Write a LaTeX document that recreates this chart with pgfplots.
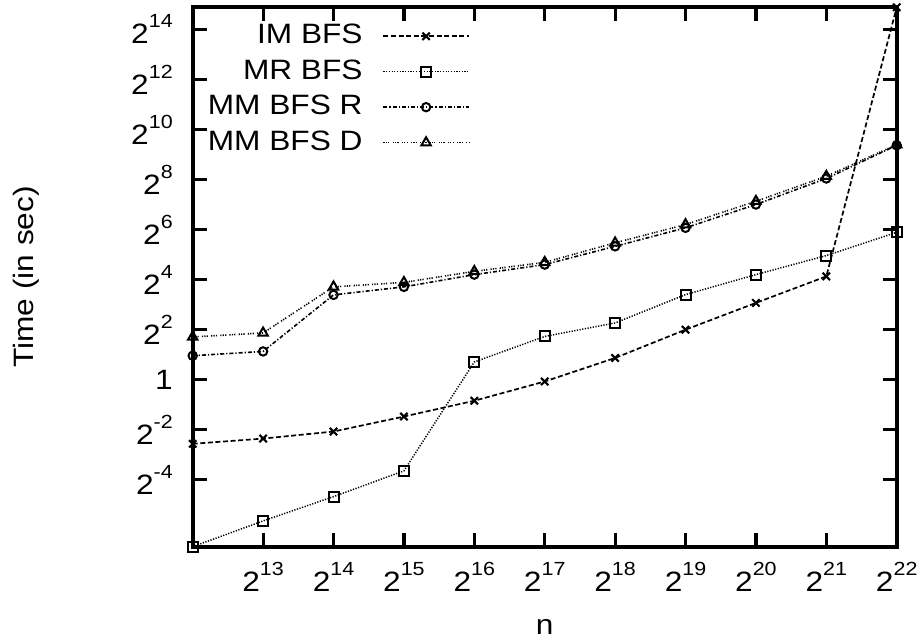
\documentclass[border=0pt]{standalone}
\usepackage{pgfplots}
\usepackage{pgfplotstable}
\pgfplotsset{compat=1.18}
\usepackage{fontspec}
\setmainfont[FakeStretch=1.13]{Liberation Sans}
\newcommand{\tp}[1]{2\raisebox{8pt}{\fontsize{9.5}{10}\selectfont #1}}

\pgfplotstableread{
x y
4096 0.1696
8192 0.1961
16384 0.2382
32768 0.3610
65536 0.5587
131072 0.9526
262144 1.828
524288 4.0
1048576 8.398
2097152 17.51
4194304 30153
}\imbfs
\pgfplotstableread{
x y
4096 0.00982
8192 0.02005
16384 0.03928
32768 0.08021
65536 1.636
131072 3.317
262144 4.823
524288 10.56
1048576 18.38
2097152 31.13
4194304 59.30
}\mrbfs
\pgfplotstableread{
x y
4096 1.945
8192 2.189
16384 10.48
32768 13.09
65536 18.38
131072 24.25
262144 40.22
524288 67.18
1048576 128.0
2097152 263.2
4194304 660.0
}\mmbfsr
\pgfplotstableread{
x y
4096 3.272
8192 3.655
16384 13.09
32768 14.82
65536 20.11
131072 25.81
262144 44.32
524288 73.52
1048576 140.1
2097152 280.1
4194304 672.0
}\mmbfsd

\begin{document}
\fontsize{14}{17}\selectfont
\begin{tikzpicture}
\begin{axis}[
  scale only axis, width=352pt, height=269.7pt,
  xmode=log, ymode=log, log basis x=2, log basis y=2,
  xmin=4096, xmax=4194304, ymin=0.00982, ymax=30153,
  clip=false,
  xtick={8192,16384,32768,65536,131072,262144,524288,1048576,2097152,4194304},
  xticklabels={\tp{13},\tp{14},\tp{15},\tp{16},\tp{17},\tp{18},\tp{19},\tp{20},\tp{21},\tp{22}},
  ytick={0.0625,0.25,1,4,16,64,256,1024,4096,16384},
  yticklabels={\tp{-4},\tp{-2},1,\tp{2},\tp{4},\tp{6},\tp{8},\tp{10},\tp{12},\tp{14}},
  minor tick num=0,
  axis line style={line width=2pt},
  tick style={line width=1.6pt, black},
  major tick length=7pt,
  tick label style={font=\fontsize{14}{17}\selectfont},
  xticklabel style={inner sep=0pt, yshift=-7.6pt},
  yticklabel style={inner sep=0pt, xshift=-9.8pt},
  label style={font=\fontsize{14}{17}\selectfont},
  xlabel={n},
  xlabel style={at={(axis description cs:0.5,-0.1628)}, anchor=base, inner sep=0pt},
  ylabel={Time (in sec)},
  ylabel style={at={(axis description cs:-0.2268,0.5)}, anchor=base, inner sep=0pt},
  legend cell align=right,
  legend plot pos=right,
  legend style={draw=none, fill=none, font=\fontsize{14}{17}\selectfont,
    at={(axis description cs:0.3939,0.969)}, anchor=north east,
    inner sep=0pt, column sep=10pt, row sep=5.85pt, nodes={inner sep=0pt}},
  legend image code/.code={
    \draw[mark repeat=2,mark phase=2,#1] plot coordinates {(0cm,0cm) (0.75cm,0cm) (1.5cm,0cm)};
  },
]
\addplot[black, line width=0.85pt, dash pattern=on 2.5pt off 1.3pt,
  mark=x, mark size=2.6pt, mark options={solid, line width=1.05pt}] table {\imbfs};
\addlegendentry{IM BFS}
\addplot[black, line width=0.75pt, dash pattern=on 0.6pt off 0.75pt,
  mark=square, mark size=2.5pt, mark options={solid, line width=1pt}] table {\mrbfs};
\addlegendentry{MR BFS}
\addplot[black, line width=0.8pt, dash pattern=on 2pt off 1pt on 0.6pt off 1pt,
  mark=o, mark size=2.1pt, mark options={solid, line width=1pt}] table {\mmbfsr};
\addlegendentry{MM BFS R}
\addplot[black, line width=0.8pt, dash pattern=on 0.6pt off 0.6pt on 0.6pt off 0.6pt on 0.6pt off 1.6pt,
  mark=triangle, mark size=2.7pt, mark options={solid, line width=1pt}] table {\mmbfsd};
\addlegendentry{MM BFS D}
\end{axis}
\pgfresetboundingbox
\path[use as bounding box] ([xshift=-96.35pt,yshift=-47.15pt]current axis.south west) rectangle ([xshift=13.15pt,yshift=3.65pt]current axis.north east);
\end{tikzpicture}
\end{document}
